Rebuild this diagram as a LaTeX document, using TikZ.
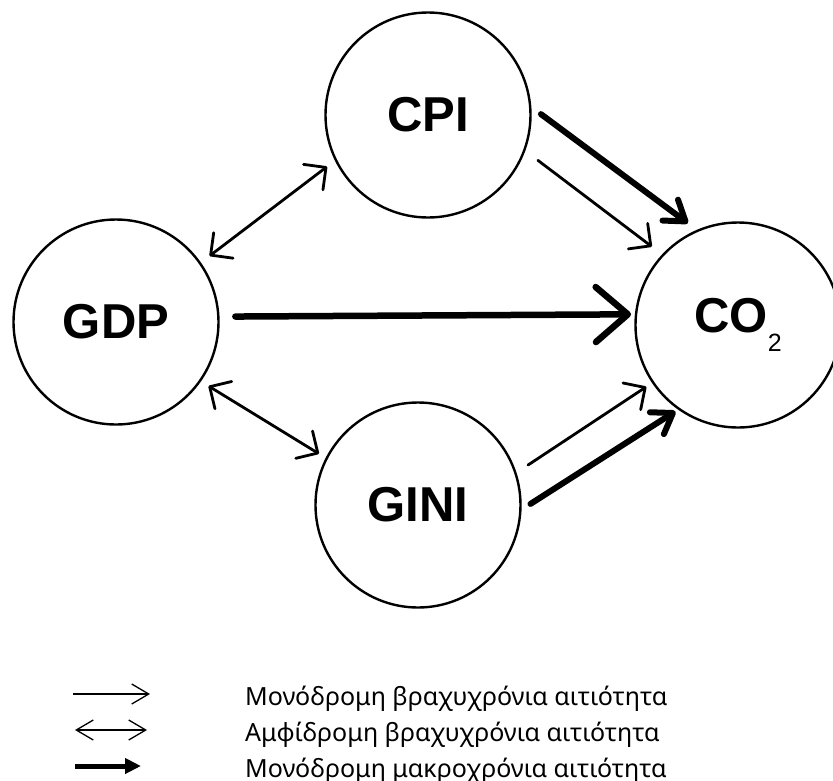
\documentclass[tikz,border=0pt]{standalone}
\usepackage{fontspec}
\setmainfont{Liberation Sans}
\newfontfamily\legendfont{Noto Sans}
\usetikzlibrary{arrows.meta}
\begin{document}
\begin{tikzpicture}[x=1pt,y=-1pt,
  var/.style={circle, draw, line width=2.4pt, minimum size=205pt, inner sep=0pt, outer sep=0pt,
    font=\fontsize{49}{49}\selectfont\bfseries},
  thinarr/.style={line width=2.8pt, line cap=round, -{Straight Barb[length=16pt,width=32pt,round]}},
  thinboth/.style={line width=2.8pt, line cap=round,
    {Straight Barb[length=16pt,width=32pt,round]}-{Straight Barb[length=16pt,width=32pt,round]}},
  thickarr/.style={line width=6pt, line cap=round, -{Straight Barb[length=19pt,width=26pt,round]}},
  bigarr/.style={line width=6.5pt, line cap=round, -{Straight Barb[length=32pt,width=55pt,round]}},
  legthin/.style={line width=1.3pt},
  legtext/.style={anchor=base west, inner sep=0pt, font=\legendfont\fontsize{25}{25}\selectfont}
]
\useasboundingbox (0,0) rectangle (833,780);

\node[var] (cpi) at (428,115) {CPI};
\node[var] (gdp) at (116,322) {GDP};
\node[var] (gini) at (418,505) {GINI};
\node[var] (co2) at (738,325) {CO\raisebox{-19pt}{\fontsize{25}{25}\selectfont\mdseries 2}};

\draw[thinboth, shorten <=12pt, shorten >=11pt] (gdp.35.5) -- (cpi.206.8);
\draw[thinboth, shorten <=10pt, shorten >=9pt] (gdp.-35.2) -- (gini.153.4);
\draw[thinarr, shorten <=17pt, shorten >=14pt] (cpi.-20.1) -- (co2.137.8);
\draw[thickarr, shorten <=13.5pt, shorten >=12.5pt] (cpi.5.5) -- (co2.113.7);
\draw[bigarr, shorten <=17pt, shorten >=5pt] (gdp.3.3) -- (co2.174.1);
\draw[thinarr, shorten <=15pt, shorten >=8pt] (gini.18.3) -- (co2.214.3);
\draw[thickarr, shorten <=12pt, shorten >=4.5pt] (gini.-3.5) -- (co2.235.7);

\coordinate (l1a) at (73,694); \coordinate (l1b) at (150,694);
\coordinate (l2a) at (75,730); \coordinate (l2b) at (147,730);
\coordinate (l3a) at (75,766); \coordinate (l3b) at (141,766);
\draw[legthin, -{Straight Barb[length=17pt,width=20pt]}] (l1a) -- (l1b);
\draw[legthin, {Straight Barb[length=17pt,width=20pt]}-{Straight Barb[length=17pt,width=20pt]}] (l2a) -- (l2b);
\draw[line width=5pt, -{Triangle[length=16pt,width=15pt]}] (l3a) -- (l3b);

\node[legtext] (t1) at (245,705) {Μονόδρομη βραχυχρόνια αιτιότητα};
\node[legtext] (t2) at (245,741) {Αμφίδρομη βραχυχρόνια αιτιότητα};
\node[legtext] (t3) at (245,777) {Μονόδρομη μακροχρόνια αιτιότητα};
\end{tikzpicture}
\end{document}
